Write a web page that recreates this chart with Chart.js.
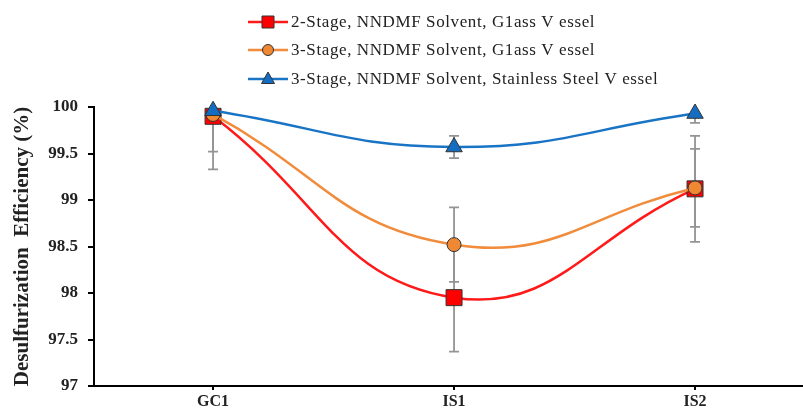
<!DOCTYPE html>
<html>
<head>
<meta charset="utf-8">
<script src="https://cdn.jsdelivr.net/npm/chart.js@4.4.1/dist/chart.umd.min.js"></script>
<style>
html,body{margin:0;padding:0;background:#fff;overflow:hidden;}
#wrap{width:803px;height:410px;}
</style>
</head>
<body>
<div id="wrap"><canvas id="c" width="803" height="410"></canvas></div>
<script>
// ---- data ----
const categories = ["GC1", "IS1", "IS2"];
const seriesNames = [
  "2-Stage, NNDMF Solvent, G1ass V essel",
  "3-Stage, NNDMF Solvent, G1ass V essel",
  "3-Stage, NNDMF Solvent, Stainless Steel V essel"
];
const twoStageGlass = [99.90, 97.95, 99.12];
const threeStageGlass = [99.92, 98.52, 99.13];
const threeStageSteel = [99.96, 99.57, 99.93];
const errTwoStageGlass = [0.57, 0.58, 0.57];
const errThreeStageGlass = [0.40, 0.40, 0.42];
const errThreeStageSteel = [0.05, 0.12, 0.10];
const yTicks = [97, 97.5, 98, 98.5, 99, 99.5, 100];

const serif = "'Liberation Serif','Times New Roman',serif";

function pts(arr){ return arr.map((v,i)=>({x:i, y:v})); }

const styles = [
  {line:'#ff1a1a', fill:'#ff0000', shape:'rect', r:11.3, err:errTwoStageGlass, order:2},
  {line:'#f08c3c', fill:'#ee8833', shape:'circle', r:7, err:errThreeStageGlass, order:1},
  {line:'#1a74c6', fill:'#136dc2', shape:'triangle', r:9.5, err:errThreeStageSteel, order:0}
];
const values = [twoStageGlass, threeStageGlass, threeStageSteel];

const datasets = values.map((vals,i)=>({
  label: seriesNames[i],
  data: pts(vals),
  borderColor: styles[i].line,
  borderWidth: 2.5,
  backgroundColor: styles[i].fill,
  pointBackgroundColor: styles[i].fill,
  pointBorderColor: '#333',
  pointBorderWidth: 1,
  pointStyle: styles[i].shape,
  pointRadius: styles[i].r,
  pointHoverRadius: styles[i].r,
  tension: 0.45,
  order: styles[i].order,
  clip: 14,
  errors: styles[i].err
}));

const errorBars = {
  id: 'errorBars',
  beforeDatasetsDraw(chart){
    const {ctx, chartArea, scales:{x, y}} = chart;
    ctx.save();
    ctx.beginPath();
    ctx.rect(chartArea.left, chartArea.top, chartArea.right-chartArea.left, chartArea.bottom-chartArea.top);
    ctx.clip();
    ctx.strokeStyle = '#949494';
    ctx.lineWidth = 1.8;
    chart.data.datasets.forEach(ds=>{
      ds.data.forEach((p,i)=>{
        const e = ds.errors[i];
        const px = x.getPixelForValue(p.x);
        const top = y.getPixelForValue(p.y + e);
        const bot = y.getPixelForValue(p.y - e);
        ctx.beginPath();
        ctx.moveTo(px, top); ctx.lineTo(px, bot);
        ctx.moveTo(px-5, top); ctx.lineTo(px+5, top);
        ctx.moveTo(px-5, bot); ctx.lineTo(px+5, bot);
        ctx.stroke();
      });
    });
    ctx.restore();
  }
};

const customLegend = {
  id: 'customLegend',
  afterDraw(chart){
    const ctx = chart.ctx;
    const ys = [22, 50, 79];
    ctx.save();
    chart.data.datasets.forEach((ds,i)=>{
      const st = styles[i];
      const yy = ys[i];
      ctx.strokeStyle = st.line;
      ctx.lineWidth = 2.5;
      ctx.beginPath(); ctx.moveTo(248, yy); ctx.lineTo(288, yy); ctx.stroke();
      ctx.fillStyle = st.fill; ctx.strokeStyle = '#333'; ctx.lineWidth = 1;
      ctx.beginPath();
      if (st.shape==='rect'){ ctx.rect(262, yy-6, 12, 12); }
      else if (st.shape==='circle'){ ctx.arc(268, yy, 5.5, 0, Math.PI*2); }
      else { ctx.moveTo(268, yy-7); ctx.lineTo(274.5, yy+4.5); ctx.lineTo(261.5, yy+4.5); ctx.closePath(); }
      ctx.fill(); ctx.stroke();
      ctx.fillStyle = '#222';
      ctx.font = "17px " + serif;
      try { ctx.letterSpacing = '0.6px'; } catch(e) {}
      ctx.textBaseline = 'middle';
      ctx.textAlign = 'left';
      ctx.fillText(ds.label, 291, yy+1);
    });
    ctx.restore();
  }
};

new Chart(document.getElementById('c'), {
  type: 'line',
  data: { datasets },
  plugins: [errorBars, customLegend],
  options: {
    responsive: false,
    animation: false,
    events: [],
    layout: { autoPadding: false, padding: { top: 107, right: 0, left: 0, bottom: 0 } },
    plugins: { legend: { display: false }, tooltip: { enabled: false } },
    scales: {
      x: {
        type: 'linear',
        min: -0.494,
        max: 2.448,
        afterBuildTicks(s){ s.ticks = categories.map((c,i)=>({value:i})); },
        afterFit(s){ s.height = 24; s.paddingLeft = 0; s.paddingRight = 0; },
        ticks: {
          callback: (v)=>categories[v],
          color: '#222',
          font: { family: serif, size: 16, weight: 'bold' },
          padding: 2,
          maxRotation: 0
        },
        grid: { display: true, drawOnChartArea: false, drawTicks: true, tickLength: 4, color: '#000', lineWidth: 2 },
        border: { display: true, color: '#000', width: 2 }
      },
      y: {
        min: 97, max: 100,
        afterBuildTicks(s){ s.ticks = yTicks.map(v=>({value:v})); },
        afterFit(s){ s.width = 94; s.paddingTop = 0; s.paddingBottom = 0; },
        ticks: {
          callback: (v)=>String(v),
          color: '#222',
          font: { family: serif, size: 17, weight: 'bold' },
          padding: 10
        },
        grid: { display: true, drawOnChartArea: false, drawTicks: true, tickLength: 6, color: '#000', lineWidth: 2 },
        border: { display: true, color: '#000', width: 2 },
        title: {
          display: true,
          text: 'Desulfurization  Efficiency (%)',
          color: '#222',
          font: { family: serif, size: 21, weight: 'bold' },
          padding: { top: 10, bottom: 2 }
        }
      }
    }
  }
});
</script>
</body>
</html>
